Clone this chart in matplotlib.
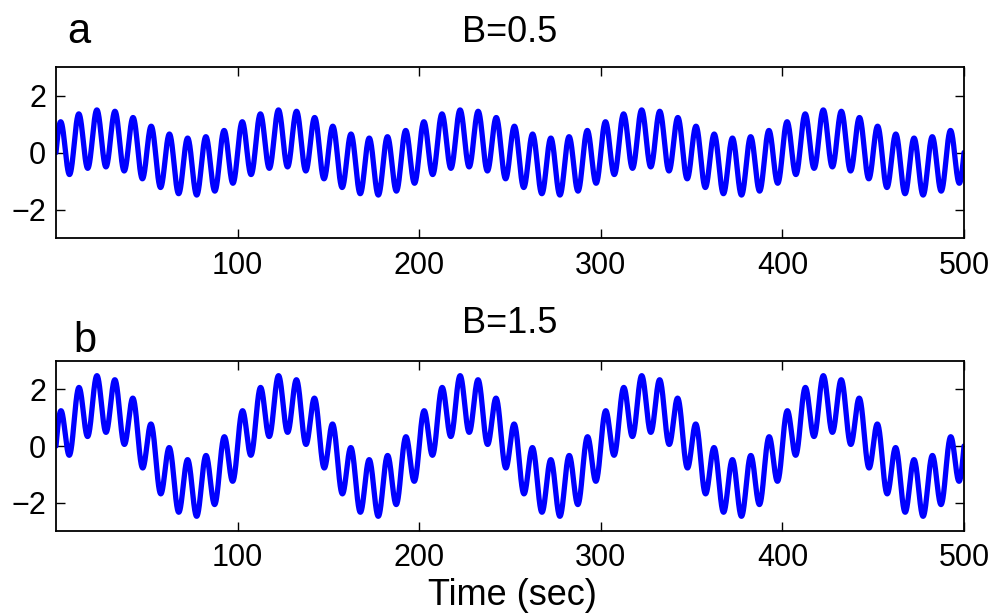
import numpy as np
import matplotlib
matplotlib.use("Agg")
import matplotlib.pyplot as plt

plt.rcParams['font.family'] = ['Liberation Sans', 'DejaVu Sans']

# Signal parameters: fast carrier plus slow modulation of amplitude B
panel_letters = ["a", "b"]
b_values = [0.5, 1.5]
fast_amplitude = 1.0
fast_period = 10.0      # seconds
slow_period = 100.0     # seconds
t_end = 500.0
x_ticks = [100, 200, 300, 400, 500]
y_ticks = [-2, 0, 2]

t = np.linspace(0, t_end, 5001)

fig = plt.figure(figsize=(9.96, 6.16), dpi=100)
W, H = 996, 616
boxes = [(56, 67, 964, 238), (56, 361, 964, 531)]
letter_pos = [(67, 43), (73, 352)]
title_y = [42, 333]

for i, (B, letter) in enumerate(zip(b_values, panel_letters)):
    x0, y0, x1, y1 = boxes[i]
    ax = fig.add_axes([x0 / W, 1 - y1 / H, (x1 - x0) / W, (y1 - y0) / H])
    y = fast_amplitude * np.sin(2 * np.pi * t / fast_period) + B * np.sin(2 * np.pi * t / slow_period)
    ax.plot(t, y, color='#0000ff', lw=3.8, solid_capstyle='round')
    ax.set_xlim(0, t_end)
    ax.set_ylim(-3, 3)
    ax.set_xticks(x_ticks)
    ax.set_yticks(y_ticks)
    ax.set_yticklabels(['\u22122', '0', '2'])
    ax.tick_params(direction='in', length=6.5, width=1, labelsize=22, top=True, right=True)
    ax.tick_params(axis='x', pad=9)
    ax.tick_params(axis='y', pad=7)
    for s in ax.spines.values():
        s.set_linewidth(1.3)
    fig.text((x0 + x1) / 2 / W, 1 - title_y[i] / H, f"B={B}", ha='center', va='baseline', fontsize=26)
    fig.text(letter_pos[i][0] / W, 1 - letter_pos[i][1] / H, letter, ha='left', va='baseline', fontsize=30)
    if i == 1:
        fig.text(512 / W, 1 - 605 / H, "Time (sec)", ha='center', va='baseline', fontsize=26)

fig.savefig("out.png", dpi=100)
